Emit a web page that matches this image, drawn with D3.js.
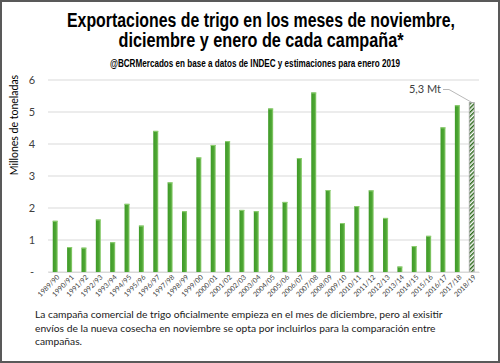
<!DOCTYPE html>
<html><head><meta charset="utf-8">
<script src="https://cdn.jsdelivr.net/npm/d3@7"></script>
<style>body{margin:0;background:#fff}svg{display:block}</style>
</head><body>
<svg id="c" width="500" height="363"></svg>
<script>
const categories = ["1989/90","1990/91","1991/92","1992/93","1993/94","1994/95","1995/96","1996/97","1997/98","1998/99","1999/00","2000/01","2001/02","2002/03","2003/04","2004/05","2005/06","2006/07","2007/08","2008/09","2009/10","2010/11","2011/12","2012/13","2013/14","2014/15","2015/16","2016/17","2017/18","2018/19"];
const values = [1.6,0.78,0.76,1.64,0.93,2.13,1.45,4.41,2.8,1.9,3.58,3.97,4.09,1.94,1.9,5.11,2.19,3.56,5.61,2.56,1.53,2.06,2.55,1.69,0.17,0.81,1.13,4.52,5.21,5.3];
const estimated = ["2018/19"];
const yTicks = [0,1,2,3,4,5,6];
const titleLines = ["Exportaciones de trigo en los meses de noviembre,","diciembre y enero de cada campaña*"];
const subtitle = "@BCRMercados en base a datos de INDEC y estimaciones para enero 2019";
const yLabel = "Millones de toneladas";
const noteLines = ["La campaña comercial de trigo oficialmente empieza en el mes de diciembre, pero al exisitir","envíos de la nueva cosecha en noviembre se opta por incluirlos para la comparación entre","campañas."];
const annotation = "5,3 Mt";

const svg = d3.select("#c");
const narrow = "'Liberation Sans',Arial,sans-serif";
const body = "Lato,'Open Sans',sans-serif";

const defs = svg.append("defs");
const g1 = defs.append("linearGradient").attr("id","bg").attr("x1","0").attr("x2","1").attr("y1","0").attr("y2","0");
g1.append("stop").attr("offset","0%").attr("stop-color","#3f9a28");
g1.append("stop").attr("offset","65%").attr("stop-color","#4ea734");
g1.append("stop").attr("offset","100%").attr("stop-color","#98d37c");
const pat = defs.append("pattern").attr("id","hatch").attr("patternUnits","userSpaceOnUse")
  .attr("width",3).attr("height",3).attr("patternTransform","rotate(45)");
pat.append("rect").attr("width",3).attr("height",3).attr("fill","#fff");
pat.append("rect").attr("width",1.5).attr("height",3).attr("fill","#2d6a1c");

// frame
svg.append("rect").attr("x",1).attr("y",1).attr("width",498).attr("height",361)
  .attr("fill","#fff").attr("stroke","#595959").attr("stroke-width",2);

// title (condensed to mimic narrow font)
const titleWidths = [388,285];
svg.append("g").selectAll("text").data(titleLines).join("text")
  .attr("x",261).attr("y",(d,i)=>27+i*20).attr("text-anchor","middle")
  .attr("font-family",narrow).attr("font-weight","bold").attr("font-size",20).attr("fill","#000")
  .attr("textLength",(d,i)=>titleWidths[i]).attr("lengthAdjust","spacingAndGlyphs")
  .text(d=>d);
svg.append("text").attr("x",255).attr("y",67).attr("text-anchor","middle")
  .attr("font-family",narrow).attr("font-weight","bold").attr("font-size",10.5).attr("fill","#000")
  .attr("textLength",290).attr("lengthAdjust","spacingAndGlyphs")
  .text(subtitle);

const x = d3.scaleBand().domain(categories).range([48,479]).paddingInner(0.65).paddingOuter(0.33);
const y = d3.scaleLinear().domain([0,6]).range([272,80]);

// gridlines
svg.append("g").selectAll("line").data(yTicks).join("line")
  .attr("x1",48).attr("x2",479).attr("y1",d=>y(d)).attr("y2",d=>y(d))
  .attr("stroke","#d9d9d9").attr("stroke-width",1);

// y axis
const yAxis = d3.axisLeft(y).tickValues(yTicks).tickSize(0).tickPadding(0)
  .tickFormat(d=> d===0 ? "-" : d3.format("d")(d));
const ya = svg.append("g").attr("transform","translate(35,0)").call(yAxis);
ya.select(".domain").remove();
ya.selectAll("text").attr("font-family",body).attr("font-size",11).attr("fill","#404040")
  .attr("text-anchor","middle").attr("dx",-3);

svg.append("text").attr("transform","translate(18,125) rotate(-90)").attr("text-anchor","middle")
  .attr("font-family",body).attr("font-size",10.5).attr("fill","#000").text(yLabel);

// bars
svg.append("g").selectAll("rect").data(categories).join("rect")
  .attr("x",d=>x(d)).attr("width",x.bandwidth())
  .attr("y",(d,i)=>y(values[i])).attr("height",(d,i)=>y(0)-y(values[i]))
  .attr("fill",d=>estimated.includes(d)?"url(#hatch)":"url(#bg)")
  .attr("stroke",d=>estimated.includes(d)?"#a6a6a6":"none").attr("stroke-width",0.8);
svg.append("g").selectAll("rect").data(categories.filter(c=>!estimated.includes(c))).join("rect")
  .attr("x",d=>x(d)).attr("width",x.bandwidth())
  .attr("y",d=>y(values[categories.indexOf(d)])).attr("height",1)
  .attr("fill","#8fcf72");

// x axis
const xAxis = d3.axisBottom(x).tickSize(0).tickPadding(0);
const xa = svg.append("g").attr("transform","translate(0,272)").call(xAxis);
xa.select(".domain").attr("stroke","#d9d9d9");
xa.selectAll("text").attr("font-family",body).attr("font-size",7).attr("fill","#404040")
  .attr("text-anchor","end").attr("transform","translate(3,4) rotate(-45)").attr("dy","0.35em").attr("y",0);

// annotation
const last = categories[categories.length-1];
const lx = x(last)+x.bandwidth()/2, ly = y(values[values.length-1]);
svg.append("polyline").attr("points",`${443},${89.5} ${449},${89.5} ${lx},${ly}`)
  .attr("fill","none").attr("stroke","#a6a6a6").attr("stroke-width",0.8);
svg.append("text").attr("x",441).attr("y",93).attr("text-anchor","end")
  .attr("font-family",body).attr("font-size",11).attr("fill","#404040").text(annotation);

// note
const notes = svg.append("g").selectAll("text").data(noteLines).join("text")
  .attr("x",35).attr("y",(d,i)=>318+i*13.5)
  .attr("font-family",body).attr("font-size",10.6).attr("fill","#1a1a1a").text(d=>d);
const w0 = notes.nodes()[0].getComputedTextLength();
notes.attr("font-size",10.6*408/w0);
</script>
</body></html>
